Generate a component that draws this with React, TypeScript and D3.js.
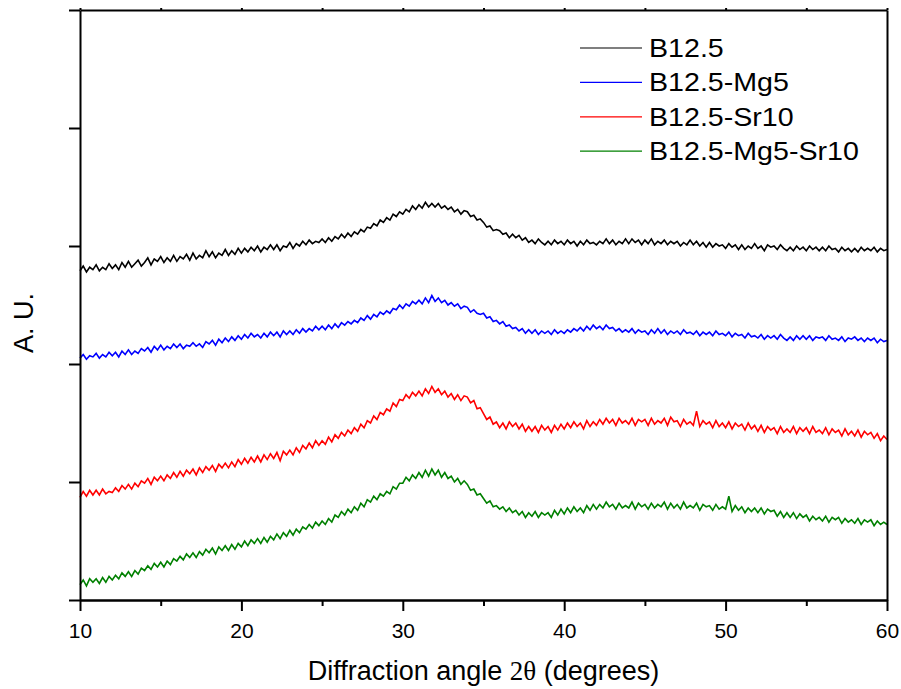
import React, { useEffect, useRef } from "react";
import * as d3 from "d3";

// diffraction angle sampling of the traces (degrees)
const angleStart = 10;
const angleStep = 0.2;

const xTicks = [10, 20, 30, 40, 50, 60];
const xMinorTicks = [15, 25, 35, 45, 55];
const yTicks = [0, 100, 200, 300, 400, 500];

const seriesNames = ["B12.5", "B12.5-Mg5", "B12.5-Sr10", "B12.5-Mg5-Sr10"];
const seriesColors = ["#000000", "#0000ff", "#ff0000", "#008000"];

// intensities (a.u.), one row per degree, 10 .. 60
const b125 = [
  279, 283, 278, 282, 280, 284, 279, 282, 280, 285,
  281, 284, 280, 286, 282, 287, 282, 285, 288, 283,
  286, 290, 284, 289, 287, 291, 286, 290, 287, 292,
  287, 291, 289, 293, 288, 294, 289, 292, 290, 296,
  291, 295, 290, 294, 292, 297, 292, 296, 293, 298,
  294, 298, 295, 299, 296, 300, 295, 299, 297, 301,
  297, 301, 296, 300, 299, 303, 298, 302, 300, 304,
  301, 305, 302, 304, 303, 306, 303, 307, 304, 308,
  306, 310, 307, 311, 308, 312, 310, 314, 312, 316,
  315, 319, 317, 322, 320, 324, 322, 327, 325, 329,
  327, 331, 329, 334, 331, 335, 332, 337, 333, 336,
  333, 336, 332, 334, 331, 333, 329, 331, 327, 330,
  329, 325, 326, 322, 323, 320, 316, 317, 313, 314,
  313, 310, 311, 307, 310, 307, 309, 305, 307, 303,
  305, 302, 306, 303, 301, 304, 301, 305, 302, 304,
  301, 305, 302, 304, 300, 304, 301, 305, 302, 303,
  301, 304, 302, 306, 302, 305, 301, 304, 302, 306,
  302, 306, 303, 305, 301, 305, 302, 306, 301, 304,
  302, 305, 301, 304, 302, 304, 300, 303, 301, 305,
  301, 304, 300, 303, 299, 303, 299, 302, 300, 301,
  298, 302, 299, 301, 297, 301, 297, 300, 298, 302,
  298, 300, 296, 301, 299, 300, 297, 301, 298, 296,
  299, 296, 300, 297, 299, 296, 300, 297, 299, 296,
  299, 296, 300, 297, 298, 295, 299, 296, 298, 295,
  298, 295, 299, 296, 298, 296, 299, 295, 298, 296,
  297,
];

const b125Mg5 = [
  205, 208, 204, 207, 206, 209, 205, 208, 206, 210,
  207, 210, 206, 211, 208, 212, 208, 211, 209, 213,
  211, 214, 210, 215, 212, 216, 212, 215, 213, 217,
  214, 217, 213, 216, 215, 218, 215, 217, 214, 219,
  217, 220, 216, 221, 218, 222, 219, 223, 220, 224,
  221, 225, 222, 226, 223, 225, 222, 226, 223, 227,
  224, 227, 223, 228, 225, 228, 225, 229, 226, 230,
  227, 230, 228, 232, 229, 232, 229, 233, 230, 234,
  231, 235, 233, 236, 234, 237, 235, 239, 237, 241,
  238, 242, 240, 244, 242, 245, 243, 247, 246, 250,
  247, 251, 249, 253, 251, 254, 251, 256, 252, 258,
  253, 256, 252, 254, 250, 252, 249, 251, 247, 249,
  248, 244, 246, 243, 242, 243, 239, 240, 236, 237,
  234, 236, 232, 233, 230, 231, 228, 230, 226, 229,
  226, 229, 225, 228, 226, 228, 225, 229, 226, 228,
  226, 229, 227, 230, 228, 231, 228, 232, 229, 233,
  230, 232, 229, 233, 230, 231, 228, 230, 227, 229,
  227, 230, 226, 229, 227, 228, 225, 229, 226, 230,
  226, 229, 225, 228, 226, 228, 225, 229, 226, 227,
  225, 228, 224, 227, 225, 227, 224, 228, 225, 226,
  224, 227, 223, 226, 224, 225, 222, 226, 223, 224,
  222, 225, 221, 224, 222, 224, 221, 225, 222, 220,
  223, 220, 224, 221, 224, 221, 224, 220, 223, 222,
  223, 220, 224, 221, 222, 220, 223, 219, 222, 221,
  223, 220, 222, 219, 222, 220, 222, 218, 221, 219,
  220,
];

const b125Sr10 = [
  87, 92, 88, 93, 89, 93, 89, 94, 90, 92,
  91, 95, 92, 97, 94, 98, 94, 99, 96, 101,
  99, 103, 98, 104, 101, 105, 101, 106, 103, 108,
  104, 109, 105, 110, 107, 111, 106, 112, 108, 113,
  110, 114, 109, 115, 112, 116, 112, 117, 113, 119,
  115, 120, 116, 121, 117, 122, 117, 123, 119, 124,
  120, 125, 118, 126, 123, 127, 123, 129, 125, 131,
  128, 133, 129, 135, 131, 135, 132, 138, 134, 140,
  137, 142, 139, 144, 141, 146, 143, 149, 146, 152,
  150, 156, 153, 159, 157, 162, 160, 167, 164, 170,
  169, 174, 171, 176, 173, 177, 173, 179, 175, 181,
  176, 179, 174, 177, 172, 175, 170, 174, 169, 173,
  172, 167, 169, 162, 163, 158, 153, 155, 149, 151,
  146, 150, 145, 151, 147, 150, 145, 149, 143, 147,
  143, 147, 142, 148, 144, 147, 142, 148, 144, 149,
  145, 150, 146, 151, 147, 150, 145, 152, 147, 151,
  148, 153, 149, 154, 150, 153, 148, 154, 150, 152,
  149, 154, 148, 153, 151, 153, 148, 154, 149, 152,
  150, 154, 148, 155, 151, 152, 147, 153, 149, 151,
  148, 160, 147, 152, 149, 151, 146, 152, 147, 150,
  146, 151, 145, 150, 147, 149, 144, 150, 145, 148,
  143, 148, 142, 147, 144, 146, 141, 147, 142, 145,
  142, 147, 141, 146, 143, 146, 141, 147, 142, 144,
  141, 146, 140, 145, 142, 144, 139, 145, 140, 143,
  139, 144, 138, 143, 140, 142, 137, 141, 135, 139,
  136,
];

const b125Mg5Sr10 = [
  13, 17, 12, 18, 15, 18, 14, 19, 15, 20,
  17, 21, 18, 23, 20, 24, 20, 25, 22, 27,
  25, 29, 26, 31, 28, 32, 28, 33, 30, 35,
  33, 37, 34, 39, 36, 40, 36, 41, 38, 43,
  40, 44, 39, 45, 42, 46, 42, 47, 43, 48,
  45, 50, 46, 51, 48, 52, 48, 53, 49, 54,
  51, 56, 52, 57, 54, 59, 55, 60, 57, 62,
  60, 64, 61, 66, 63, 67, 64, 69, 66, 72,
  70, 75, 72, 77, 74, 79, 76, 82, 79, 85,
  83, 88, 85, 90, 88, 92, 90, 96, 94, 99,
  99, 104, 101, 106, 103, 108, 104, 110, 105, 111,
  106, 110, 104, 108, 103, 105, 100, 103, 98, 101,
  98, 93, 94, 89, 90, 86, 82, 84, 79, 80,
  77, 79, 75, 78, 74, 76, 72, 75, 70, 74,
  71, 75, 70, 74, 72, 74, 70, 76, 72, 77,
  73, 78, 74, 79, 75, 78, 74, 80, 76, 81,
  77, 81, 78, 83, 79, 81, 77, 82, 78, 80,
  78, 83, 77, 82, 79, 81, 77, 82, 78, 81,
  79, 83, 77, 82, 78, 81, 77, 83, 78, 80,
  78, 82, 76, 81, 79, 80, 76, 81, 77, 79,
  77, 88, 75, 80, 76, 79, 74, 78, 75, 78,
  74, 78, 73, 77, 75, 76, 71, 75, 70, 74,
  70, 74, 69, 73, 70, 72, 67, 71, 68, 70,
  67, 71, 66, 70, 68, 70, 65, 69, 66, 68,
  65, 69, 64, 68, 66, 68, 63, 67, 64, 66,
  64,
];

const seriesValues = [b125, b125Mg5, b125Sr10, b125Mg5Sr10];

const font = "'Liberation Sans', Arial, sans-serif";

export default function App() {
  const ref = useRef<SVGSVGElement>(null);

  useEffect(() => {
    const width = 901;
    const height = 689;
    const margin = { top: 10, right: 14, bottom: 89, left: 80 };

    const svg = d3.select(ref.current).attr("width", width).attr("height", height);
    svg.selectAll("*").remove();

    const x = d3.scaleLinear().domain([10, 60]).range([margin.left, width - margin.right]);
    const y = d3.scaleLinear().domain([0, 500]).range([height - margin.bottom, margin.top]);

    // traces
    const line = d3
      .line<number>()
      .x((d, i) => x(angleStart + i * angleStep))
      .y((d) => y(d));

    svg.selectAll(".trace").data(seriesValues).join("path")
      .attr("class", "trace")
      .attr("fill", "none")
      .attr("stroke", (d, i) => seriesColors[i])
      .attr("stroke-width", 1.6)
      .attr("stroke-linejoin", "miter")
      .attr("d", (d) => line(d));

    // bottom axis, major + minor ticks
    const xAxis = svg.append("g")
      .attr("transform", `translate(0, ${y(0)})`)
      .call(d3.axisBottom(x).tickValues(xTicks).tickSize(11).tickSizeOuter(0).tickPadding(12).tickFormat(d3.format("d")));
    svg.append("g")
      .attr("transform", `translate(0, ${y(0)})`)
      .call(d3.axisBottom(x).tickValues(xMinorTicks).tickSize(6).tickSizeOuter(0).tickFormat(() => ""));

    xAxis.selectAll("text").style("font-family", font).style("font-size", "21px").attr("fill", "#000");

    // left axis, ticks only
    svg.append("g")
      .attr("transform", `translate(${x(10)}, 0)`)
      .call(d3.axisLeft(y).tickValues(yTicks).tickSize(11).tickSizeOuter(0).tickFormat(() => ""));

    // frame: top and right
    svg.append("g")
      .attr("transform", `translate(0, ${y(500)})`)
      .call(d3.axisTop(x).tickValues([...xTicks, ...xMinorTicks]).tickSize(2).tickSizeOuter(0).tickFormat(() => ""));
    svg.append("g")
      .attr("transform", `translate(${x(60)}, 0)`)
      .call(d3.axisRight(y).tickValues([]).tickSizeOuter(0));

    svg.selectAll(".domain").attr("stroke", "#000").attr("stroke-width", 2);
    svg.selectAll(".tick line").attr("stroke", "#000").attr("stroke-width", 2);

    // axis titles
    const xTitle = svg.append("text")
      .attr("x", (x(10) + x(60)) / 2)
      .attr("y", 680)
      .attr("text-anchor", "middle")
      .style("font-family", font)
      .style("font-size", "27px");
    xTitle.append("tspan").text("Diffraction angle ");
    xTitle.append("tspan").style("font-family", "'Liberation Serif', 'Times New Roman', serif").text("2θ");
    xTitle.append("tspan").text(" (degrees)");

    svg.append("text")
      .attr("transform", `translate(33, ${(y(0) + y(500)) / 2 + 18}) rotate(-90)`)
      .attr("text-anchor", "middle")
      .style("font-family", font)
      .style("font-size", "27px")
      .text("A. U.");

    // legend
    const legend = svg.append("g").attr("transform", "translate(580, 48)");
    const rows = legend.selectAll("g").data(seriesNames).join("g")
      .attr("transform", (d, i) => `translate(0, ${i * 34.4})`);
    rows.append("line")
      .attr("x1", 0).attr("x2", 62)
      .attr("stroke", (d, i) => seriesColors[i])
      .attr("stroke-width", 1.2);
    rows.append("text")
      .attr("transform", "translate(69, 9) scale(1.1, 1)")
      .style("font-family", font)
      .style("font-size", "26px")
      .text((d) => d);
  }, []);

  return <svg ref={ref} style={{ position: "absolute", left: 0, top: 0, background: "#fff" }} />;
}
